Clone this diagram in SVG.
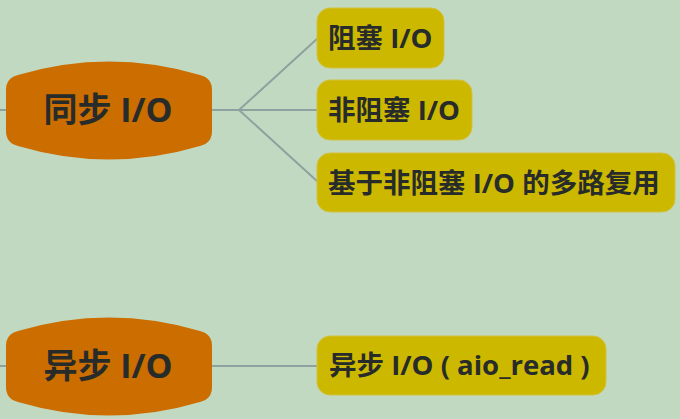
<svg xmlns="http://www.w3.org/2000/svg" width="680" height="419" viewBox="0 0 680 419">
<style>
.bg{fill:#C1D9C0}
.main{fill:#CC6D00}
.sub{fill:#CDB800;stroke:#D3C040;stroke-width:1}
.lnk{fill:none;stroke:#8FA19F;stroke-width:2}
text{font-family:"Open Sans","Noto Sans CJK SC",sans-serif;font-weight:bold;fill:#272C2A}
.t1{font-size:34px;text-anchor:middle}
.t2{font-size:27.5px}
</style>
<defs>
<path id="hex" d="M6 90 Q6 78 18 75 Q109 48 200 75 Q212 78 212 90 L212 131 Q212 143 200 146 Q109 173 18 146 Q6 143 6 131 Z"/>
</defs>
<rect class="bg" x="0" y="0" width="680" height="419"/>
<g id="connectors">
<line class="lnk" x1="0" y1="110" x2="8" y2="110"/>
<path class="lnk" d="M210 110 L239 110 L318 110 M239 110 L318 38 M239 110 L318 182"/>
<line class="lnk" x1="0" y1="366" x2="8" y2="366"/>
<line class="lnk" x1="210" y1="366" x2="318" y2="366"/>
</g>
<g id="sync">
<use href="#hex" class="main"/>
<text class="t1" x="108" y="122">同步 I/O</text>
</g>
<g id="async">
<use href="#hex" class="main" transform="translate(0,256)"/>
<text class="t1" x="108" y="378">异步 I/O</text>
</g>
<g id="blocking">
<rect class="sub" x="317" y="8" width="127" height="60" rx="13"/>
<text class="t2" x="328" y="48">阻塞 I/O</text>
</g>
<g id="nonblocking">
<rect class="sub" x="317" y="80" width="155" height="60" rx="13"/>
<text class="t2" x="328" y="120">非阻塞 I/O</text>
</g>
<g id="multiplexing">
<rect class="sub" x="317" y="153" width="358" height="59" rx="13"/>
<text class="t2" x="328" y="193">基于非阻塞 I/O 的多路复用</text>
</g>
<g id="aio">
<rect class="sub" x="317" y="336" width="289" height="59" rx="13"/>
<text class="t2" x="329" y="375">异步 I/O ( aio_read )</text>
</g>
</svg>
